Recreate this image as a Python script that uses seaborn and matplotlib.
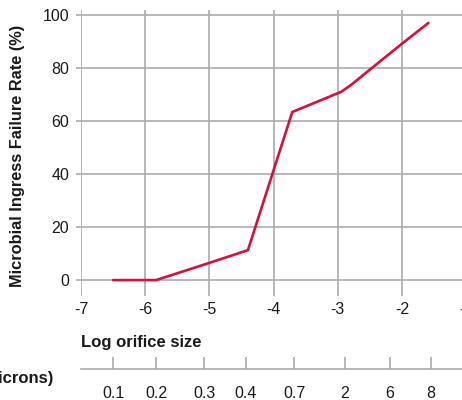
import matplotlib
matplotlib.use("Agg")
import matplotlib.pyplot as plt
import seaborn as sns

# Failure curve
log_size = [-6.5, -5.83, -5.0, -4.4, -3.71, -3.4, -3.1, -2.95, -2.8, -2.45, -2.0, -1.59]
failure = [0, 0, 6.5, 11.3, 63.4, 66.5, 69.5, 71.0, 73.5, 80.4, 89.2, 97.0]

# Secondary size scale (microns) and its positions on the log axis
micron_pos = [-6.5, -5.83, -5.08, -4.43, -3.68, -2.89, -2.19, -1.55]
micron_labels = ["0.1", "0.2", "0.3", "0.4", "0.7", "2", "6", "8"]

y_ticks = [0, 20, 40, 60, 80, 100]
x_ticks = [-7, -6, -5, -4, -3, -2, -1]

sns.set_style("white")
plt.rcParams["font.family"] = ["Liberation Sans", "DejaVu Sans"]

grid_col = "#ababab"
text_col = "#1a1a1a"

fig = plt.figure(figsize=(4.62, 4.0), dpi=100)
ax = fig.add_axes([0.1753, 0.26, 0.834, 0.7158])

sns.lineplot(x=log_size, y=failure, ax=ax, color="#d6103c", linewidth=1.9,
             sort=False, estimator=None)

ax.set_xlim(-7, -1)
ax.set_ylim(-6, 102)
ax.set_xticks(x_ticks)
ax.set_xticklabels([str(t) for t in x_ticks])
ax.set_yticks(y_ticks)
ax.set_yticklabels([str(t) for t in y_ticks])
ax.grid(True, color=grid_col, linewidth=1.2)
ax.set_axisbelow(True)
for s in ax.spines.values():
    s.set_visible(False)
ax.tick_params(axis="y", left=True, length=3.6, width=1.2, color=grid_col, pad=5,
               labelsize=11.5, labelcolor=text_col)
ax.tick_params(axis="x", bottom=True, length=0, pad=4, labelsize=11.5,
               labelcolor=text_col)
ax.set_ylabel("Microbial Ingress Failure Rate (%)", fontsize=11.8,
              fontweight="bold", color=text_col)
ax.yaxis.set_label_coords(-0.145, 0.49)
ax.set_xlabel("")

# Secondary scale below
ax2 = fig.add_axes([0.1753, 0.0775, 0.834, 0.01])
ax2.set_xlim(-7, -1)
ax2.set_ylim(0, 1)
for name, s in ax2.spines.items():
    s.set_visible(name == "bottom")
ax2.spines["bottom"].set_color(grid_col)
ax2.spines["bottom"].set_linewidth(1.2)
ax2.set_yticks([])
ax2.set_xticks(micron_pos)
ax2.set_xticklabels(micron_labels)
ax2.tick_params(axis="x", bottom=True, direction="in", length=8.6, width=1.2,
                color=grid_col, pad=12.5, labelsize=11.5, labelcolor=text_col)
ax2.patch.set_alpha(0)

fig.text(81 / 462, (400 - 343) / 400, "Log orifice size", fontsize=12,
         fontweight="bold", color=text_col, ha="left", va="center")
fig.text(53 / 462, (400 - 379) / 400, "Size (microns)", fontsize=12,
         fontweight="bold", color=text_col, ha="right", va="center")

fig.savefig("out.png", dpi=100)
